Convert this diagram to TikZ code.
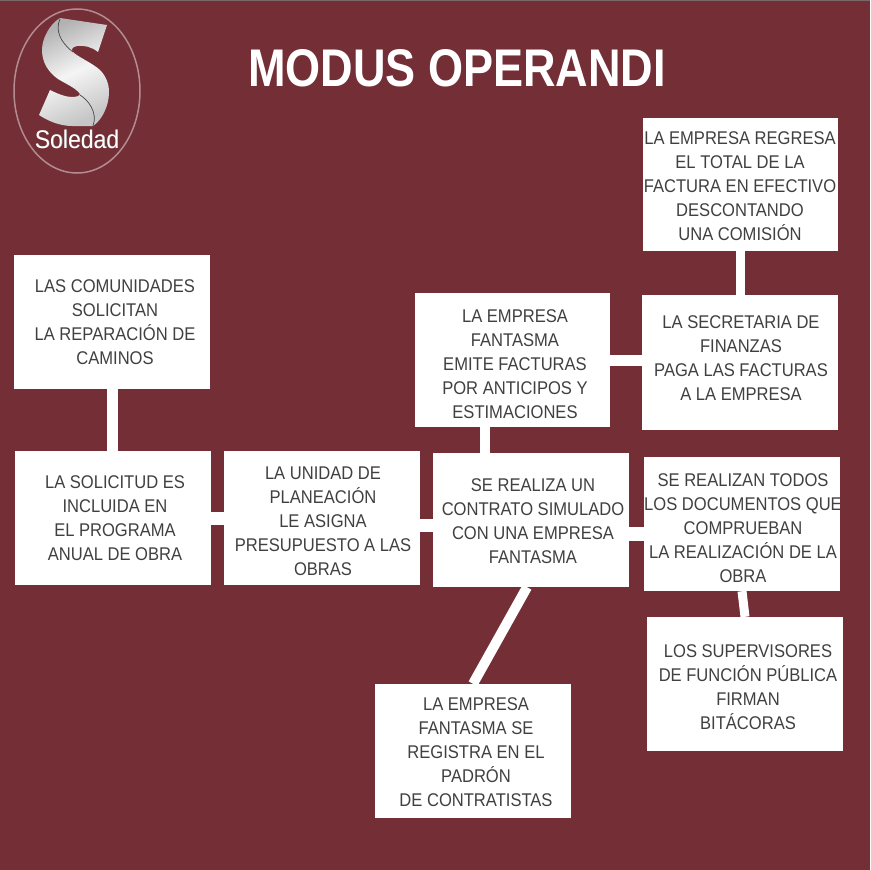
\documentclass[tikz,border=0pt]{standalone}
\usepackage{fontspec}
\setmainfont[FakeStretch=0.9]{Liberation Sans}
\newfontfamily\titlefont[FakeStretch=0.85]{Liberation Sans}
\definecolor{wine}{HTML}{742E36}
\definecolor{ink}{HTML}{404040}
\begin{document}
\begin{tikzpicture}[x=1pt,y=-1pt,
  boxnode/.style={fill=white,draw=none,inner sep=0pt,minimum width=196pt,minimum height=134pt},
  txt/.style={inner sep=0pt,align=center,text=ink,font=\fontsize{18.4}{24}\selectfont},
  link/.style={draw=white,line cap=butt}]
\useasboundingbox (0,0) rectangle (870,870);
\fill[wine] (0,0) rectangle (870,870);
\draw[gray!70!wine,line width=1pt] (0,0.5) -- (870,0.5);
\path
  (112,322) node[boxnode] (A) {}
  (113,518) node[boxnode] (B) {}
  (322,518) node[boxnode] (C) {}
  (531,520) node[boxnode] (D) {}
  (512.5,360) node[boxnode,minimum width=195pt] (E) {}
  (740,362.5) node[boxnode,minimum height=135pt] (F) {}
  (740.5,184.5) node[boxnode,minimum width=195pt,minimum height=133pt] (G) {}
  (742,524) node[boxnode] (H) {}
  (745,684) node[boxnode] (I) {}
  (473,751) node[boxnode] (J) {};
% connectors
\draw[link,line width=11pt] ([xshift=0.5pt]A.south) -- ([xshift=-0.5pt]B.north);
\draw[link,line width=13pt] (B.east) -- (C.west);
\draw[link,line width=13pt] ([yshift=-7pt]C.east) -- ([yshift=-5pt]D.west);
\draw[link,line width=10pt] ([xshift=-46pt]D.north) -- ([xshift=-27.5pt]E.south);
\draw[link,line width=11pt] (E.east) -- ([yshift=2.5pt]F.west);
\draw[link,line width=14pt] ([yshift=-14pt]D.east) -- ([yshift=-10pt]H.west);
\draw[link,line width=9pt] (G.south) -- ([xshift=0.5pt]F.north);
\draw[link,line width=9pt] (H.south) -- (I.north);
\draw[link,line width=10pt] ([xshift=-4pt]D.south) -- (J.north);
% texts
\node[txt] (tA) at (115,322) {LAS COMUNIDADES\\SOLICITAN\\LA REPARACIÓN DE\\CAMINOS};
\node[txt] (tB) at (115,518) {LA SOLICITUD ES\\INCLUIDA EN\\EL PROGRAMA\\ANUAL DE OBRA};
\node[txt] (tC) at (323,521) {LA UNIDAD DE\\PLANEACIÓN\\LE ASIGNA\\PRESUPUESTO A LAS\\OBRAS};
\node[txt] (tD) at (533,521) {SE REALIZA UN\\CONTRATO SIMULADO\\CON UNA EMPRESA\\FANTASMA};
\node[txt] (tE) at (515,364) {LA EMPRESA\\FANTASMA\\EMITE FACTURAS\\POR ANTICIPOS Y\\ESTIMACIONES};
\node[txt] (tF) at (741,358) {LA SECRETARIA DE\\FINANZAS\\PAGA LAS FACTURAS\\A LA EMPRESA};
\node[txt] (tG) at (740,186) {LA EMPRESA REGRESA\\EL TOTAL DE LA\\FACTURA EN EFECTIVO\\DESCONTANDO\\UNA COMISIÓN};
\node[txt] (tH) at (743,528) {SE REALIZAN TODOS\\LOS DOCUMENTOS QUE\\COMPRUEBAN\\LA REALIZACIÓN DE LA\\OBRA};
\node[txt] (tI) at (748,687) {LOS SUPERVISORES\\DE FUNCIÓN PÚBLICA\\FIRMAN\\BITÁCORAS};
\node[txt] (tJ) at (476,752) {LA EMPRESA\\FANTASMA SE\\REGISTRA EN EL\\PADRÓN\\DE CONTRATISTAS};
% title
\node[inner sep=0pt,text=white,font=\titlefont\fontsize{53}{60}\selectfont\bfseries] (title) at (457,68) {MODUS OPERANDI};
% logo
\draw[draw=wine!55!white,line width=1.5pt] (77,91) ellipse [x radius=63,y radius=82];
\shade[left color=gray!60,right color=gray!45,middle color=gray!8,shading angle=25]
  (60,18) -- (107,25) -- (98,52) .. controls (92,47) and (84,45) .. (77,46)
  .. controls (72,47) and (70,50) .. (74,53)
  .. controls (82,59) and (92,63) .. (100,70)
  .. controls (106,76) and (109,84) .. (109,92)
  .. controls (109,106) and (102,120) .. (93,126)
  -- (72,126) .. controls (60,126) and (48,121) .. (39,115)
  -- (50,90) .. controls (58,94) and (66,97) .. (72,97)
  .. controls (76,97) and (80,96) .. (80,94)
  .. controls (76,88) and (66,84) .. (58,79)
  .. controls (48,72) and (42,62) .. (42,50)
  .. controls (42,38) and (50,24) .. (60,18) -- cycle;
\draw[gray!55!black,line width=0.7pt] (60,19) .. controls (55,30) and (60,42) .. (73,52);
\draw[gray!55!black,line width=0.7pt] (80,95) .. controls (88,100) and (98,112) .. (93,126);
\node[inner sep=0pt,text=black!45,font=\fontsize{25.5}{27}\selectfont] at (77.6,139.6) {Soledad};
\node[inner sep=0pt,text=white,font=\fontsize{25.5}{27}\selectfont] (soledad) at (77,139) {Soledad};
\end{tikzpicture}
\end{document}
